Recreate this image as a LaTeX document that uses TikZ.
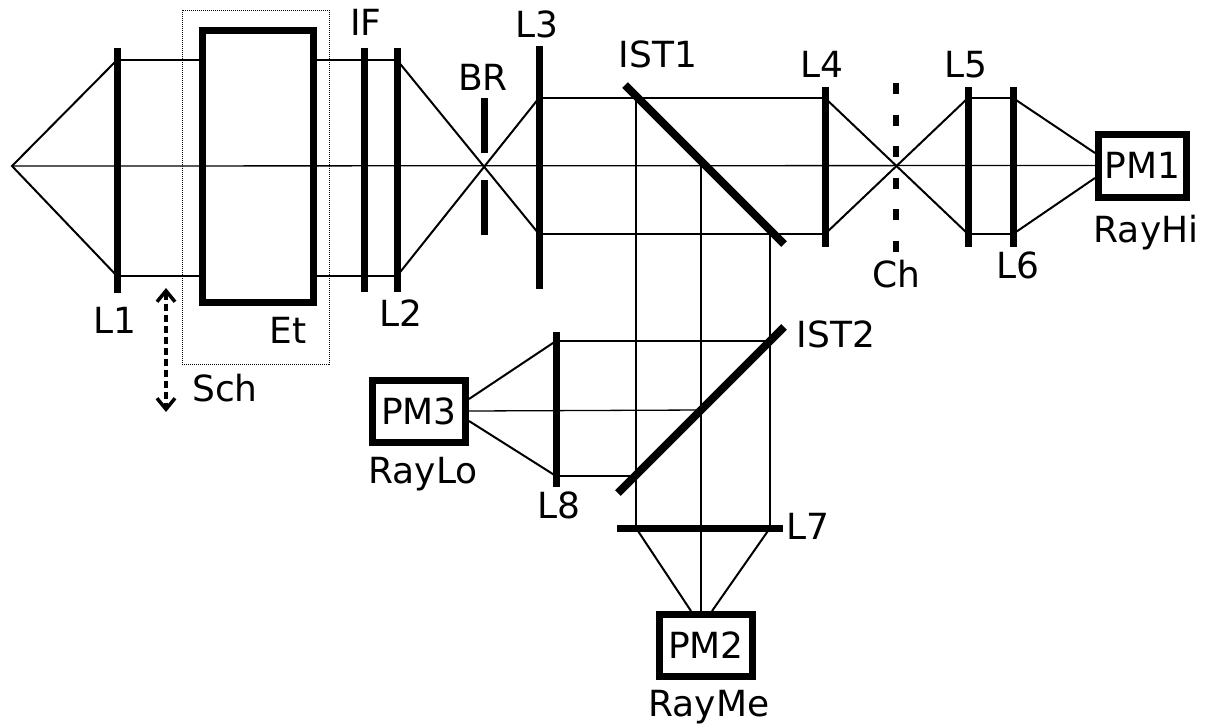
\documentclass[tikz,border=0pt]{standalone}
\usepackage{fontspec}
\setmainfont{DejaVu Sans}
\usetikzlibrary{arrows.meta}
\begin{document}
\begin{tikzpicture}[x=1pt,y=-1pt,
  lbl/.style={font=\fontsize{36}{40}\selectfont, inner sep=0pt, anchor=base},
  axisline/.style={line width=1.3pt},
  ray/.style={line width=2pt},
  lens/.style={line width=7pt},
  splitter/.style={line width=8pt},
  pmbox/.style={draw, line width=7pt, inner sep=0pt, fill=white,
    font=\fontsize{36}{40}\selectfont},
  sbarb/.tip={Straight Barb[length=11pt,width=18pt,line width=3.5pt]},
]
\useasboundingbox (0,0) rectangle (1205,724);

% ---------- coordinates ----------
\coordinate (src) at (12,166);
\coordinate (l1t) at (117,48);  \coordinate (l1b) at (117,293);
\coordinate (l1u) at (117,60);  \coordinate (l1d) at (117,276);
\coordinate (ift) at (364,48);  \coordinate (ifb) at (364,292);
\coordinate (l2t) at (397,48);  \coordinate (l2b) at (397,292);
\coordinate (l2u) at (397,60);  \coordinate (l2d) at (397,276);
\coordinate (br1) at (484,98);  \coordinate (br2) at (484,153);
\coordinate (br3) at (484,180); \coordinate (br4) at (484,235);
\coordinate (l3t) at (539,46);  \coordinate (l3b) at (539,289);
\coordinate (l3u) at (539,98);  \coordinate (l3d) at (539,234);
\coordinate (ist1a) at (625,85); \coordinate (ist1b) at (784,244);
\coordinate (l4t) at (825,87);  \coordinate (l4b) at (825,247);
\coordinate (l4u) at (825,98);  \coordinate (l4d) at (825,234);
\coordinate (cht) at (896,83);  \coordinate (chb) at (896,252);
\coordinate (l5t) at (968,87);  \coordinate (l5b) at (968,247);
\coordinate (l5u) at (968,98);  \coordinate (l5d) at (968,234);
\coordinate (l6t) at (1013,87); \coordinate (l6b) at (1013,247);
\coordinate (l6u) at (1013,98); \coordinate (l6d) at (1013,234);
\coordinate (pm1a) at (1095,153); \coordinate (pm1b) at (1095,178);
\coordinate (v1t) at (636,98);  \coordinate (v2t) at (701,166); \coordinate (v3t) at (770,234);
\coordinate (l7l) at (617,528); \coordinate (l7r) at (783,528);
\coordinate (v1b) at (636,528); \coordinate (v3b) at (770,528);
\coordinate (pm2a) at (691,611); \coordinate (pm2b) at (712,611);
\coordinate (ist2a) at (618,493); \coordinate (ist2b) at (784,327);
\coordinate (l8t) at (556,332); \coordinate (l8b) at (556,487);
\coordinate (l8u) at (556,341); \coordinate (l8d) at (556,476);
\coordinate (h1e) at (770,341); \coordinate (h2e) at (636,476); \coordinate (a2e) at (701,410);
\coordinate (pm3a) at (469,399); \coordinate (pm3b) at (469,421);
\coordinate (schA) at (166,288); \coordinate (schB) at (166,412);
\coordinate (schbox1) at (182,10); \coordinate (schbox2) at (329,364);

% ---------- boxes ----------
\node[draw, line width=7pt, inner sep=0pt, minimum width=111pt, minimum height=272pt] (et) at (258,166.5) {};
\node[pmbox, minimum width=88pt, minimum height=63pt] (pm1) at (1142.5,165.5) {PM1};
\node[pmbox, minimum width=93pt, minimum height=62pt] (pm2) at (706,645.5) {PM2};
\node[pmbox, minimum width=93pt, minimum height=62pt] (pm3) at (419,411) {PM3};

% ---------- optical axes ----------
\draw[axisline] (src) -- (pm1.west);
\draw[axisline] (pm3.east) -- (a2e);
\draw[axisline] (v1t) -- (v1b);
\draw[axisline] (v2t) -- (v2t |- pm2.north);
\draw[axisline] (v3t) -- (v3b);

% ---------- rays ----------
\draw[ray] (l1u) -- (src) -- (l1d);
\draw[ray] (l1u) -- (l1u -| et.west);
\draw[ray] (l1d) -- (l1d -| et.west);
\draw[ray] (l2u -| et.east) -- (l2u);
\draw[ray] (l2d -| et.east) -- (l2d);
\draw[ray] (l2u) -- (l3d);
\draw[ray] (l2d) -- (l3u);
\draw[ray] (l3u) -- (l4u);
\draw[ray] (l3d) -- (l4d);
\draw[ray] (l4u) -- (l5d);
\draw[ray] (l4d) -- (l5u);
\draw[ray] (l5u) -- (l6u);
\draw[ray] (l5d) -- (l6d);
\draw[ray] (l6u) -- (pm1a);
\draw[ray] (l6d) -- (pm1b);
\draw[ray] (l8u) -- (h1e);
\draw[ray] (l8d) -- (h2e);
\draw[ray] (l8u) -- (pm3a);
\draw[ray] (l8d) -- (pm3b);
\draw[ray] (v1b) -- (pm2a);
\draw[ray] (v3b) -- (pm2b);

% ---------- optical elements ----------
\draw[lens] (l1t) -- (l1b);
\draw[lens] (ift) -- (ifb);
\draw[lens] (l2t) -- (l2b);
\draw[lens] (br1) -- (br2);
\draw[lens] (br3) -- (br4);
\draw[lens] (l3t) -- (l3b);
\draw[lens] (l4t) -- (l4b);
\draw[lens] (l5t) -- (l5b);
\draw[lens] (l6t) -- (l6b);
\draw[lens] (l8t) -- (l8b);
\draw[lens] (l7l) -- (l7r);
\draw[line width=6pt, dash pattern=on 11pt off 20.5pt] (cht) -- (chb);
\draw[splitter] (ist1a) -- (ist1b);
\draw[splitter] (ist2a) -- (ist2b);

% ---------- sliding element ----------
\draw[line width=1pt, dash pattern=on 1pt off 1pt] (schbox1) rectangle (schbox2);
\draw[line width=3.5pt, dash pattern=on 7pt off 4pt, sbarb-sbarb] (schA) -- (schB);

% ---------- labels ----------
\node[lbl] (tL1) at (115,333) {L1};
\node[lbl] (tEt) at (288,343) {Et};
\node[lbl] (tSch) at (225,401) {Sch};
\node[lbl] (tIF) at (366,35) {IF};
\node[lbl] (tL2) at (401,326) {L2};
\node[lbl] (tBR) at (483,90) {BR};
\node[lbl] (tL3) at (537,37) {L3};
\node[lbl] (tIST1) at (658,67) {IST1};
\node[lbl] (tL4) at (822,77) {L4};
\node[lbl] (tL5) at (966,77) {L5};
\node[lbl] (tCh) at (896,287) {Ch};
\node[lbl] (tL6) at (1018,278) {L6};
\node[lbl] (tRayHi) at (1146,242) {RayHi};
\node[lbl] (tIST2) at (836,347) {IST2};
\node[lbl] (tL8) at (559,518) {L8};
\node[lbl] (tRayLo) at (423,483) {RayLo};
\node[lbl] (tL7) at (808,539) {L7};
\node[lbl] (tRayMe) at (709,716) {RayMe};
\end{tikzpicture}
\end{document}
